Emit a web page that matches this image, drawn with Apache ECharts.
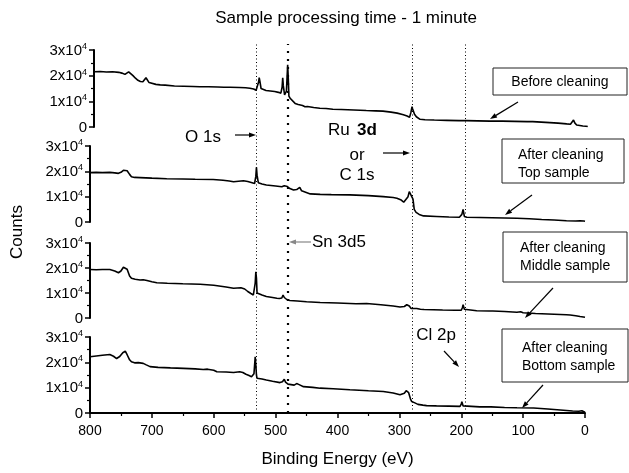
<!DOCTYPE html>
<html><head><meta charset="utf-8">
<script src="https://cdn.jsdelivr.net/npm/echarts@6/dist/echarts.min.js"></script>
<style>html,body{margin:0;padding:0;background:#fff}#c{width:629px;height:473px}</style>
</head><body><div id="c"></div>
<script>
const FONT = '"Liberation Sans", Arial, sans-serif';
const titleText = 'Sample processing time - 1 minute';
const xName = 'Binding Energy (eV)';
const yName = 'Counts';
const xTicks = [800, 700, 600, 500, 400, 300, 200, 100, 0];
const yTicks = [0, 10000, 20000, 30000];
const panelNames = ['Before cleaning', 'After cleaning\nTop sample', 'After cleaning\nMiddle sample', 'After cleaning\nBottom sample'];
const peakLines = [531, 481, 280, 193];

const beforeE = [800,790,780,770,760,755,750,747,744,741,737,733,729,725,721,718,716,714,711,708,700,693,685,670,655,640,629,615,600,590,580,565,555,548,542,538,536,534,533,532,530,528,522,515,508,502,498,496,495,494,492,490,489,487,486,485,483,480,475,470,467,463,459,455,450,445,435,425,414,400,380,360,345,333,320,310,300,294,290,288,286,285,284,282,279,276,273,265,250,230,210,198,180,160,140,120,100,91,70,50,36,30,27,25,23,20,15,10,5,2];
const beforeC = [21500,21600,21400,21500,21300,21000,20500,20800,21500,21000,20000,19000,18200,17700,17600,18200,19200,18500,17300,16800,16600,16400,16300,16000,15900,15800,15700,15700,15600,15500,15500,15400,15300,15100,14800,14300,14500,17500,19200,18000,15000,14400,14200,14000,13800,13500,13200,15500,19200,16000,12500,11800,14000,24200,19000,12000,11200,10500,9200,8800,8600,8400,7900,8000,7800,7600,7300,7200,6900,6800,6600,6400,6300,6200,5800,5400,4800,4300,3800,5500,7900,7000,7600,5000,4000,3400,3000,2800,2700,2600,2500,2500,2400,2300,2300,2200,2100,2100,1800,1500,1200,1100,1500,2700,1600,800,600,400,300,200];

const topE = [800,790,780,768,760,754,750,746,743,740,736,733,728,719,700,676,650,630,601,585,575,568,560,552,545,538,534,532,531,530,528,522,515,500,490,486,484,481,477,471,466,463,461,458,455,444,428,410,380,350,326,310,304,298,293,290,286,284,282,280,278,276,273,268,261,240,220,203,199,197,195,191,170,150,130,110,90,70,50,30,15,8,5,2,0];
const topC = [19500,19600,19500,19600,19400,19200,19600,20400,20900,20200,18800,17900,17600,17500,17300,17100,17000,16900,16800,16500,16200,15900,16100,16300,16000,15500,15200,18000,21600,18500,15500,15000,14600,14200,13900,14300,14900,14000,13200,12600,12800,13500,13700,12300,11600,11100,10900,10800,10700,10400,10000,9700,9400,8800,7800,7800,10000,12000,11000,11500,9000,5000,3800,3000,2400,2200,2000,1900,3000,5000,2200,1900,1800,1700,1600,1500,1300,1000,800,500,400,500,800,400,300];

const middleE = [800,790,780,768,760,754,750,746,743,740,736,733,727,719,714,708,700,692,675,650,622,600,580,568,562,556,550,545,540,536,533,532,531,530,528,522,515,505,498,496,494,490,488,486,482,477,465,450,428,400,370,353,330,310,299,292,288,286,284,281,278,272,269,266,260,245,230,210,200,198,197,195,192,175,155,152,149,130,110,104,100,80,60,40,30,27,24,15,8,0];
const middleC = [19400,19300,19400,19400,18800,18100,18800,20300,20800,19500,16800,15900,15500,15200,15300,15000,14500,14100,13900,13700,13500,13100,12400,11900,12000,12100,11600,10600,9800,9200,14000,18500,16000,10000,9500,9200,8600,8200,7900,8400,7800,8000,9200,8200,7400,7000,6800,6500,6200,6000,5700,5800,5300,4800,4400,4600,5300,5900,4800,3800,3600,3800,3900,3500,3400,3300,3200,3100,3100,4200,5300,3500,3000,2900,2800,3100,2800,2600,2300,2500,2100,1800,1600,1400,1300,1600,1200,900,600,300];

const bottomE = [800,790,780,768,762,757,752,747,743,740,736,733,728,722,714,709,703,690,670,649,630,617,610,600,595,580,568,558,553,548,543,539,535,533,532,531,530,522,515,505,493,489,486,484,480,477,470,466,464,462,455,440,428,407,380,350,326,310,299,292,289,287,285,282,280,277,275,270,262,256,240,220,202,200,199,197,194,170,152,130,110,83,60,40,30,20,10,5,3,0];
const bottomC = [22200,22500,22800,23100,22400,21500,22300,23800,24400,23000,21000,20200,19800,19900,19600,19000,18300,18000,17800,17600,17400,17200,17300,16900,16300,16200,16000,16300,16000,15300,14800,14300,15500,22200,19000,15000,13700,13400,13000,12500,12000,12300,13300,12200,11400,11100,11000,11600,12000,11200,10400,10100,9800,9600,9200,8800,8500,7900,7200,7800,8800,9100,8000,5500,4500,4200,4000,3400,3100,2900,2800,2700,2600,3500,4500,2800,2400,2400,2400,2200,2100,2000,1600,1200,1000,800,700,900,600,300];

const panels = [[beforeE, beforeC], [topE, topC], [middleE, middleC], [bottomE, bottomC]];
const gridBoxes = [
  {left: 94, top: 50, width: 495, height: 77},
  {left: 90, top: 146, width: 495, height: 76},
  {left: 90, top: 243, width: 495, height: 75},
  {left: 90, top: 337, width: 495, height: 76}
];

const chart = echarts.init(document.getElementById('c'), null, {renderer: 'canvas'});

const grids = gridBoxes.concat([{left: 90, top: 44, width: 495, height: 369}]);
const xAxes = [], yAxes = [], series = [];
for (let i = 0; i < 4; i++) {
  const isBottom = i === 3;
  xAxes.push({
    gridIndex: i, type: 'value', min: 0, max: 800, interval: 100, inverse: true,
    show: isBottom,
    axisLine: {show: true, onZero: false, lineStyle: {color: '#000', width: 2}},
    axisTick: {show: true, inside: false, length: 5, lineStyle: {color: '#000', width: 1.5}},
    minorTick: {show: true, splitNumber: 2, length: 3, lineStyle: {color: '#000', width: 1.2}},
    splitLine: {show: false},
    axisLabel: {show: true, color: '#000', fontSize: 14, fontFamily: FONT, margin: 11,
      formatter: v => xTicks.indexOf(v) >= 0 ? String(v) : ''},
    name: isBottom ? xName : '', nameLocation: 'middle', nameGap: 38,
    nameTextStyle: {color: '#000', fontSize: 17, fontFamily: FONT}
  });
  yAxes.push({
    gridIndex: i, type: 'value', min: 0, max: 30000, interval: 10000,
    axisLine: {show: true, onZero: false, lineStyle: {color: '#000', width: 2}},
    axisTick: {show: true, inside: false, length: 5, lineStyle: {color: '#000', width: 1.5}},
    minorTick: {show: true, splitNumber: 2, length: 3, lineStyle: {color: '#000', width: 1.2}},
    splitLine: {show: false},
    axisLabel: {
      color: '#000', fontFamily: FONT, margin: 7,
      formatter: v => yTicks.indexOf(v) < 0 ? '' : (v === 0 ? '{b|0}' : '{b|' + (v / 10000) + 'x10}{s|4}'),
      rich: {
        b: {fontSize: 15, fontFamily: FONT, color: '#000', lineHeight: 16, verticalAlign: 'bottom'},
        s: {fontSize: 9, fontFamily: FONT, color: '#000', lineHeight: 16, verticalAlign: 'top'}
      }
    }
  });
  const [E, C] = panels[i];
  series.push({
    type: 'line', xAxisIndex: i, yAxisIndex: i, showSymbol: false, symbol: 'none',
    data: E.map((e, k) => [e, C[k]]),
    lineStyle: {color: '#000', width: 1.6}, silent: true, animation: false
  });
}
xAxes.push({gridIndex: 4, type: 'value', min: 0, max: 800, inverse: true, show: false});
yAxes.push({gridIndex: 4, type: 'value', min: 0, max: 1, show: false});
series.push({
  type: 'line', xAxisIndex: 4, yAxisIndex: 4, data: [], silent: true, animation: false,
  markLine: {
    silent: true, symbol: ['none', 'none'], label: {show: false}, animation: false,
    data: peakLines.map((v, k) => ({
      xAxis: v,
      lineStyle: k === 1 ? {color: '#000', width: 2.2, type: [2, 6]} : {color: '#000', width: 1, type: [1, 2.5]}
    }))
  }
});

function arrow(x1, y1, x2, y2, color) {
  const a = Math.atan2(y2 - y1, x2 - x1), L = 7, W = 2.5;
  const bx = x2 - L * Math.cos(a), by = y2 - L * Math.sin(a);
  return [
    {type: 'line', shape: {x1, y1, x2: bx, y2: by}, style: {stroke: color, lineWidth: 1.2}, z: 100},
    {type: 'polygon', shape: {points: [[x2, y2], [bx + W * Math.sin(a), by - W * Math.cos(a)], [bx - W * Math.sin(a), by + W * Math.cos(a)]]}, style: {fill: color}, z: 100}
  ];
}
function txt(s, x, y, size, align, weight) {
  return {type: 'text', x, y, z: 100, style: {text: s, font: (weight || 'normal') + ' ' + size + 'px ' + FONT, fill: '#000',
    lineHeight: 18,
    align: align || 'center', verticalAlign: 'middle', textAlign: align || 'center', textVerticalAlign: 'middle'}};
}
function box(x, y, w, h) {
  return {type: 'rect', z: 90, shape: {x, y, width: w, height: h}, style: {fill: '#fff', stroke: '#222', lineWidth: 1}};
}

const graphic = [].concat(
  txt('O 1s', 203, 137, 17),
  arrow(235, 135, 256, 135, '#000'),
  txt('Ru', 328, 130, 17, 'left'),
  txt('3d', 357, 130, 17, 'left', 'bold'),
  txt('or', 357, 155, 17),
  txt('C 1s', 357, 175, 17),
  arrow(383, 153, 410, 153, '#000'),
  txt('Sn 3d5', 312, 242, 17, 'left'),
  arrow(311, 242, 289, 242, '#888'),
  txt('Cl 2p', 436, 335, 17),
  arrow(444, 351, 459, 367, '#000'),
  box(493, 68, 134, 27),
  txt(panelNames[0], 560, 82, 14),
  arrow(518, 102, 490, 119, '#000'),
  box(502, 139, 122, 44),
  txt(panelNames[1], 518, 164, 14, 'left'),
  arrow(532, 195, 505, 215, '#000'),
  box(503, 232, 124, 50),
  txt(panelNames[2], 520, 257, 14, 'left'),
  arrow(553, 288, 525, 318, '#000'),
  box(502, 329, 126, 53),
  txt(panelNames[3], 522, 357, 14, 'left'),
  arrow(543, 385, 522, 408, '#000'),
  [{type: 'text', x: 17, y: 232, rotation: Math.PI / 2, z: 100,
    style: {text: yName, font: 'normal 17px ' + FONT, fill: '#000', align: 'center', verticalAlign: 'middle', textAlign: 'center', textVerticalAlign: 'middle'}}]
);

chart.setOption({
  animation: false,
  backgroundColor: '#fff',
  title: {text: titleText, left: 341, top: 5, textAlign: 'center',
    textStyle: {fontSize: 17, fontWeight: 'normal', color: '#000', fontFamily: FONT}},
  grid: grids,
  xAxis: xAxes,
  yAxis: yAxes,
  series: series,
  graphic: graphic
});
</script>
</body></html>
